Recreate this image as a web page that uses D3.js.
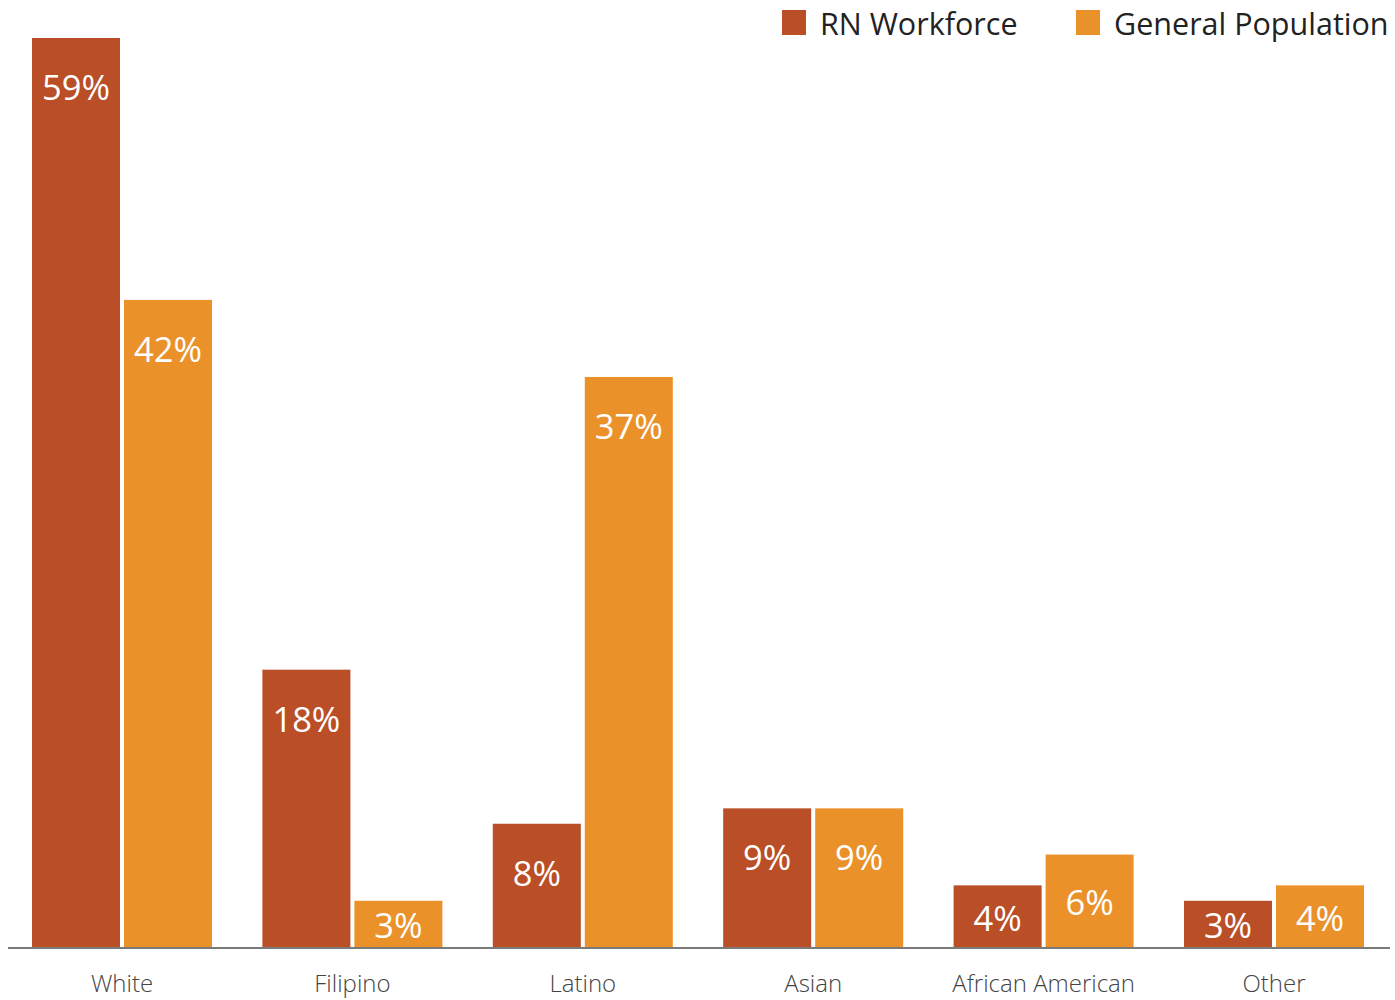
<!DOCTYPE html>
<html>
<head>
<meta charset="utf-8">
<script src="https://cdn.jsdelivr.net/npm/d3@7"></script>
<style>
  html, body { margin: 0; padding: 0; background: #fff; }
  svg { display: block; }
  text { font-family: "Open Sans", "Noto Sans", sans-serif; }
</style>
</head>
<body>
<svg id="chart" width="1395" height="1000"></svg>
<script>
// Race/ethnicity share: RN workforce vs. general population (percent)
const categories = ["White", "Filipino", "Latino", "Asian", "African American", "Other"];
const seriesNames = ["RN Workforce", "General Population"];
const rnWorkforce = [59, 18, 8, 9, 4, 3];
const generalPopulation = [42, 3, 37, 9, 6, 4];
const seriesColors = ["#BA4E27", "#EA912A"];

const svg = d3.select("#chart");
const baseY = 947;

const x0 = d3.scaleBand()
  .domain(categories)
  .range([6.8, 1389.2])
  .paddingInner(0.21875)
  .paddingOuter(0.109375);

const x1 = d3.scaleBand()
  .domain(seriesNames)
  .range([0, x0.bandwidth()])
  .paddingInner(4 / 92);

const y = d3.scaleLinear()
  .domain([0, 59])
  .range([baseY, 38]);

const rows = categories.map((c, i) => ({
  category: c,
  values: [
    { series: seriesNames[0], value: rnWorkforce[i], color: seriesColors[0] },
    { series: seriesNames[1], value: generalPopulation[i], color: seriesColors[1] }
  ]
}));

const groups = svg.append("g")
  .selectAll("g")
  .data(rows)
  .join("g")
  .attr("transform", d => `translate(${x0(d.category)},0)`);

groups.selectAll("rect")
  .data(d => d.values)
  .join("rect")
  .attr("x", d => x1(d.series))
  .attr("y", d => y(d.value))
  .attr("width", x1.bandwidth())
  .attr("height", d => baseY - y(d.value))
  .attr("fill", d => d.color);

// value labels: near the top of tall bars, centred in short ones
groups.selectAll("text.val")
  .data(d => d.values)
  .join("text")
  .attr("class", "val")
  .attr("x", d => x1(d.series) + x1.bandwidth() / 2)
  .attr("y", d => {
    const top = y(d.value);
    const mid = (top + baseY) / 2 + 1;
    return Math.min(top + 48.5, mid);
  })
  .attr("text-anchor", "middle")
  .attr("dominant-baseline", "central")
  .attr("fill", "#fff")
  .attr("font-size", 34.5)
  .text(d => d.value + "%");

// baseline axis with category names
const axis = d3.axisBottom(x0).tickSize(0).tickPadding(0);
const axisG = svg.append("g")
  .attr("transform", `translate(0,${baseY + 1})`)
  .call(axis);
axisG.select(".domain")
  .attr("d", "M8,0H1390")
  .attr("stroke", "#7a7a7a")
  .attr("stroke-width", 2);
axisG.selectAll(".tick text")
  .attr("y", 36)
  .attr("dy", "0.35em")
  .attr("fill", "#444")
  .attr("font-size", 24)
  .attr("font-weight", 300)
  .style("font-family", "'Open Sans', sans-serif");

// legend
const legendX = [782, 1076];
const legend = svg.append("g")
  .selectAll("g")
  .data(seriesNames)
  .join("g")
  .attr("transform", (d, i) => `translate(${legendX[i]},10)`);
legend.append("rect")
  .attr("width", 24)
  .attr("height", 25)
  .attr("fill", (d, i) => seriesColors[i]);
legend.append("text")
  .attr("x", 38)
  .attr("y", 25)
  .attr("fill", "#222")
  .attr("font-size", 30.5)
  .text(d => d);
</script>
</body>
</html>
